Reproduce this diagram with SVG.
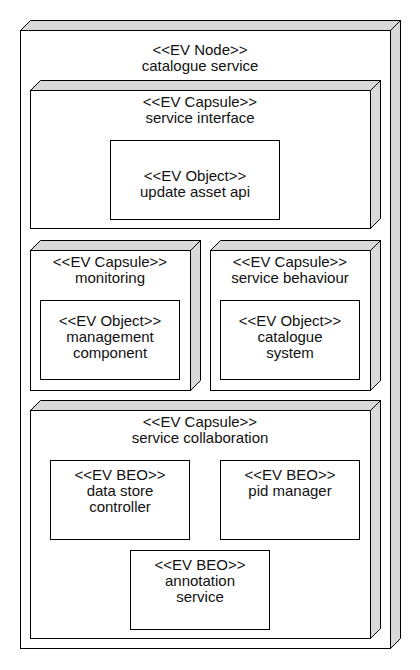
<svg xmlns="http://www.w3.org/2000/svg" width="420" height="670" viewBox="0 0 420 670">
<style>
.face{fill:#ffffff;stroke:#000000;stroke-width:1}
.side{fill:#d9d9d9;stroke:#000000;stroke-width:1;stroke-linejoin:miter}
.box{fill:#ffffff;stroke:#000000;stroke-width:1}
text{font-family:"Liberation Sans",Arial,sans-serif;font-size:15px;fill:#111111;text-anchor:middle}
</style>
<rect width="420" height="670" fill="#ffffff"/>
<g id="node-catalogue-service">
<polygon class="side" points="20.5,30.5 30.5,20.5 400.5,20.5 390.5,30.5"/>
<polygon class="side" points="390.5,30.5 400.5,20.5 400.5,638.5 390.5,648.5"/>
<rect class="face" x="20.5" y="30.5" width="370" height="618"/>
<text x="200" y="55">&lt;&lt;EV Node&gt;&gt;</text>
<text x="200" y="71">catalogue service</text>
</g>
<g id="capsule-service-interface">
<polygon class="side" points="30.5,90.5 40.5,80.5 380.5,80.5 370.5,90.5"/>
<polygon class="side" points="370.5,90.5 380.5,80.5 380.5,218.5 370.5,228.5"/>
<rect class="face" x="30.5" y="90.5" width="340" height="138"/>
<text x="200" y="107">&lt;&lt;EV Capsule&gt;&gt;</text>
<text x="200" y="123">service interface</text>
</g>
<g id="object-update-asset-api">
<rect class="box" x="110.5" y="140.5" width="169" height="79"/>
<text x="195" y="181">&lt;&lt;EV Object&gt;&gt;</text>
<text x="195" y="197">update asset api</text>
</g>
<g id="capsule-monitoring">
<polygon class="side" points="30.5,250.5 40.5,240.5 200.5,240.5 190.5,250.5"/>
<polygon class="side" points="190.5,250.5 200.5,240.5 200.5,380.5 190.5,390.5"/>
<rect class="face" x="30.5" y="250.5" width="160" height="140"/>
<text x="110" y="267">&lt;&lt;EV Capsule&gt;&gt;</text>
<text x="110" y="283">monitoring</text>
</g>
<g id="object-management-component">
<rect class="box" x="40.5" y="300.5" width="139" height="79"/>
<text x="110" y="326">&lt;&lt;EV Object&gt;&gt;</text>
<text x="110" y="342">management</text>
<text x="110" y="358">component</text>
</g>
<g id="capsule-service-behaviour">
<polygon class="side" points="210.5,250.5 220.5,240.5 380.5,240.5 370.5,250.5"/>
<polygon class="side" points="370.5,250.5 380.5,240.5 380.5,380.5 370.5,390.5"/>
<rect class="face" x="210.5" y="250.5" width="160" height="140"/>
<text x="290" y="267">&lt;&lt;EV Capsule&gt;&gt;</text>
<text x="290" y="283">service behaviour</text>
</g>
<g id="object-catalogue-system">
<rect class="box" x="220.5" y="300.5" width="139" height="79"/>
<text x="290" y="326">&lt;&lt;EV Object&gt;&gt;</text>
<text x="290" y="342">catalogue</text>
<text x="290" y="358">system</text>
</g>
<g id="capsule-service-collaboration">
<polygon class="side" points="30.5,410.5 40.5,400.5 380.5,400.5 370.5,410.5"/>
<polygon class="side" points="370.5,410.5 380.5,400.5 380.5,628.5 370.5,638.5"/>
<rect class="face" x="30.5" y="410.5" width="340" height="228"/>
<text x="200" y="427">&lt;&lt;EV Capsule&gt;&gt;</text>
<text x="200" y="443">service collaboration</text>
</g>
<g id="beo-data-store-controller">
<rect class="box" x="50.5" y="460.5" width="139" height="79"/>
<text x="120" y="480">&lt;&lt;EV BEO&gt;&gt;</text>
<text x="120" y="496">data store</text>
<text x="120" y="512">controller</text>
</g>
<g id="beo-pid-manager">
<rect class="box" x="220.5" y="460.5" width="139" height="79"/>
<text x="290" y="480">&lt;&lt;EV BEO&gt;&gt;</text>
<text x="290" y="496">pid manager</text>
</g>
<g id="beo-annotation-service">
<rect class="box" x="130.5" y="550.5" width="139" height="79"/>
<text x="200" y="570">&lt;&lt;EV BEO&gt;&gt;</text>
<text x="200" y="586">annotation</text>
<text x="200" y="602">service</text>
</g>
</svg>
